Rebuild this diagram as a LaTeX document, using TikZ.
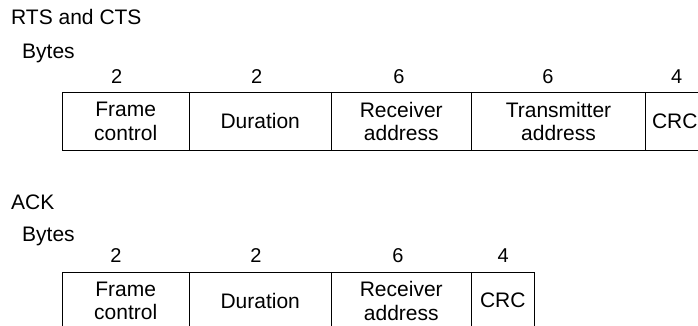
\documentclass[tikz,border=0pt]{standalone}
\usepackage{fontspec}
\setmainfont{Liberation Sans}
\begin{document}
\begin{tikzpicture}[x=1pt,y=-1pt,
  cell/.style={draw, line width=1pt, inner sep=0pt, outer sep=0pt, minimum height=57.5pt, align=center, font=\fontsize{21}{23.5}\selectfont},
  num/.style={anchor=base, inner sep=0pt, font=\fontsize{20}{22}\selectfont},
  lbl/.style={anchor=base west, inner sep=0pt, font=\fontsize{21}{23}\selectfont}]
\useasboundingbox (0,0) rectangle (698,326);
\clip (0,0) rectangle (698,326);
% RTS and CTS
\node[lbl] (rtslabel) at (11,25) {RTS and CTS};
\node[lbl] (bytes1) at (22,58.3) {Bytes};
\node[num] (n11) at (116.7,84) {2};
\node[num] (n12) at (256.7,84) {2};
\node[num] (n13) at (399,84) {6};
\node[num] (n14) at (548,84) {6};
\node[num] (n15) at (676.7,84) {4};
\node[cell, minimum width=127.5pt] (t1) at (125.75,121.25) {Frame\\control};
\node[cell, minimum width=141.5pt] (t2) at (260.25,121.25) {Duration};
\node[cell, minimum width=140.5pt] (t3) at (401.25,121.25) {Receiver\\address};
\node[cell, minimum width=174pt] (t4) at (558.5,121.25) {Transmitter\\address};
\node[cell, minimum width=58.5pt] (t5) at (674.75,121.25) {CRC};
% ACK
\node[lbl] (acklabel) at (11,209) {ACK};
\node[lbl] (bytes2) at (22,241.7) {Bytes};
\node[num] (n21) at (116,262) {2};
\node[num] (n22) at (256,262) {2};
\node[num] (n23) at (398,262) {6};
\node[num] (n24) at (503.3,262) {4};
\node[cell, minimum width=127.5pt] (b1) at (125.75,300.75) {Frame\\control};
\node[cell, minimum width=141.5pt] (b2) at (260.25,300.75) {Duration};
\node[cell, minimum width=140.5pt] (b3) at (401.25,300.75) {Receiver\\address};
\node[cell, minimum width=62.5pt] (b4) at (502.75,300.75) {CRC};
\end{tikzpicture}
\end{document}
